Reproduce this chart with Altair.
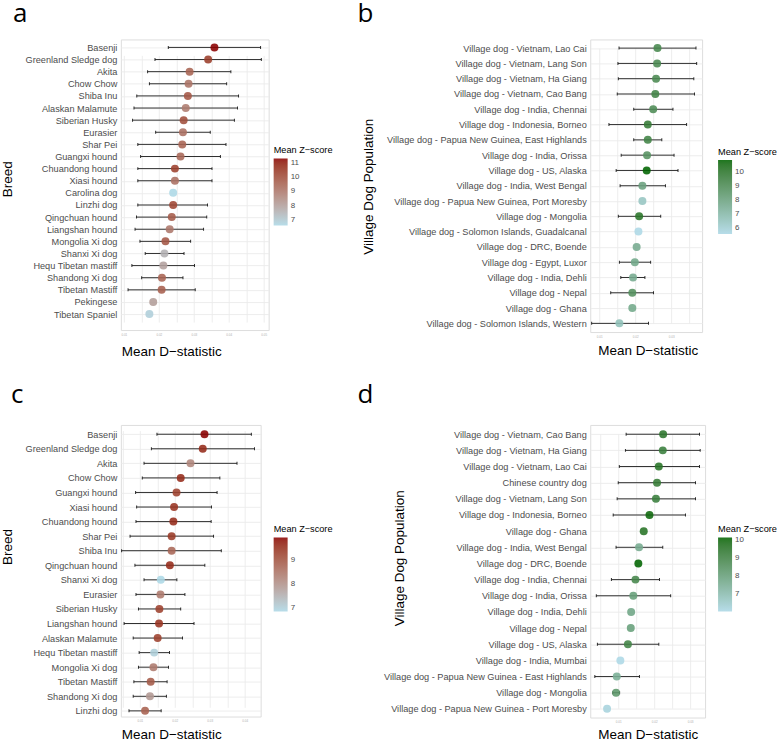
import altair as alt
import pandas as pd

# ---- panel a: breeds ----
a_cats = ["Basenji", "Greenland Sledge dog", "Akita", "Chow Chow", "Shiba Inu",
          "Alaskan Malamute", "Siberian Husky", "Eurasier", "Shar Pei", "Guangxi hound",
          "Chuandong hound", "Xiasi hound", "Carolina dog", "Linzhi dog", "Qingchuan hound",
          "Liangshan hound", "Mongolia Xi dog", "Shanxi Xi dog", "Hequ Tibetan mastiff",
          "Shandong Xi dog", "Tibetan Mastiff", "Pekingese", "Tibetan Spaniel"]
a_d = [0.0359, 0.0341, 0.0288, 0.0285, 0.0283, 0.0277, 0.0271, 0.0269, 0.0267, 0.0262,
       0.0246, 0.0246, 0.0241, 0.0241, 0.0237, 0.0231, 0.0219, 0.0216, 0.0213, 0.0209,
       0.0208, 0.0184, 0.0173]
a_lo = [0.0227, 0.0189, 0.0168, 0.0173, 0.0137, 0.0129, 0.0125, 0.0191, 0.0140, 0.0148,
        0.0140, 0.0140, None, 0.0140, 0.0136, 0.0132, 0.0146, 0.0161, 0.0123, 0.0151,
        0.0112, None, None]
a_hi = [0.0491, 0.0493, 0.0406, 0.0394, 0.0428, 0.0425, 0.0416, 0.0347, 0.0392, 0.0376,
        0.0352, 0.0352, None, 0.0339, 0.0337, 0.0328, 0.0291, 0.0272, 0.0302, 0.0269,
        0.0304, None, None]
a_z = [11.28, 10.4, 9.5, 9.1, 9.8, 8.9, 10.0, 9.2, 9.5, 9.4, 10.3, 9.2, 6.66, 10.2, 9.7,
       9.0, 9.8, 7.6, 8.0, 9.5, 9.6, 8.1, 6.9]

# ---- panel b: village dog populations ----
b_cats = ["Village dog - Vietnam, Lao Cai", "Village dog - Vietnam, Lang Son",
          "Village dog - Vietnam, Ha Giang", "Village dog - Vietnam, Cao Bang",
          "Village dog - India, Chennai", "Village dog - Indonesia, Borneo",
          "Village dog - Papua New Guinea, East Highlands", "Village dog - India, Orissa",
          "Village dog - US, Alaska", "Village dog - India, West Bengal",
          "Village dog - Papua New Guinea, Port Moresby", "Village dog - Mongolia",
          "Village dog - Solomon Islands, Guadalcanal", "Village dog - DRC, Boende",
          "Village dog - Egypt, Luxor", "Village dog - India, Dehli", "Village dog - Nepal",
          "Village dog - Ghana", "Village dog - Solomon Islands, Western"]
b_d = [0.0262, 0.0261, 0.0258, 0.0256, 0.0250, 0.0235, 0.0235, 0.0233, 0.0232, 0.0220,
       0.0220, 0.0211, 0.0209, 0.0204, 0.0199, 0.0194, 0.0192, 0.0192, 0.0156]
b_lo = [0.0155, 0.0152, 0.0153, 0.0150, 0.0196, 0.0127, 0.0196, 0.0161, 0.0147, 0.0158,
        None, 0.0153, None, None, 0.0156, 0.0160, 0.0132, None, 0.0079]
b_hi = [0.0369, 0.0371, 0.0363, 0.0365, 0.0305, 0.0343, 0.0274, 0.0308, 0.0319, 0.0284,
        None, 0.0271, None, None, 0.0243, 0.0227, 0.0251, None, 0.0237]
b_z = [9.2, 9.1, 9.1, 9.4, 9.0, 9.8, 9.4, 8.7, 10.83, 8.0, 6.4, 10.1, 5.57, 7.6, 7.7,
       7.6, 8.8, 7.7, 6.6]

# ---- panel c: breeds ----
c_cats = ["Basenji", "Greenland Sledge dog", "Akita", "Chow Chow", "Guangxi hound",
          "Xiasi hound", "Chuandong hound", "Shar Pei", "Shiba Inu", "Qingchuan hound",
          "Shanxi Xi dog", "Eurasier", "Siberian Husky", "Liangshan hound",
          "Alaskan Malamute", "Hequ Tibetan mastiff", "Mongolia Xi dog", "Tibetan Mastiff",
          "Shandong Xi dog", "Linzhi dog"]
c_d = [0.0285, 0.0280, 0.0245, 0.0217, 0.0205, 0.0198, 0.0196, 0.0191, 0.0191, 0.0186,
       0.0160, 0.0159, 0.0156, 0.0155, 0.0151, 0.0141, 0.0139, 0.0131, 0.0129, 0.0115]
c_lo = [0.0149, 0.0133, 0.0112, 0.0107, 0.0088, 0.0091, 0.0089, 0.0072, 0.0048, 0.0086,
        0.0112, 0.0089, 0.0096, 0.0055, 0.0081, 0.0098, 0.0096, 0.0083, 0.0081, 0.0069]
c_hi = [0.0419, 0.0428, 0.0378, 0.0329, 0.0321, 0.0305, 0.0304, 0.0311, 0.0333, 0.0286,
        0.0206, 0.0229, 0.0217, 0.0255, 0.0222, 0.0185, 0.0182, 0.0178, 0.0176, 0.0161]
c_z = [9.95, 9.6, 8.2, 9.6, 9.3, 9.5, 9.6, 9.4, 8.7, 9.6, 6.86, 8.4, 9.3, 9.5, 9.3, 7.0,
       8.4, 8.9, 7.9, 8.8]

# ---- panel d: village dog populations ----
d_cats = ["Village dog - Vietnam, Cao Bang", "Village dog - Vietnam, Ha Giang",
          "Village dog - Vietnam, Lao Cai", "Chinese country dog",
          "Village dog - Vietnam, Lang Son", "Village dog - Indonesia, Borneo",
          "Village dog - Ghana", "Village dog - India, West Bengal", "Village dog - DRC, Boende",
          "Village dog - India, Chennai", "Village dog - India, Orissa",
          "Village dog - India, Dehli", "Village dog - Nepal", "Village dog - US, Alaska",
          "Village dog - India, Mumbai", "Village dog - Papua New Guinea - East Highlands",
          "Village dog - Mongolia", "Village dog - Papua New Guinea - Port Moresby"]
d_d = [0.0225, 0.0224, 0.0213, 0.0208, 0.0205, 0.0187, 0.0171, 0.0158, 0.0156, 0.0148,
       0.0142, 0.0136, 0.0135, 0.0127, 0.0106, 0.0096, 0.0094, 0.0069]
d_lo = [0.0122, 0.0120, 0.0103, 0.0100, 0.0097, 0.0086, None, 0.0094, None, 0.0081,
        0.0039, None, None, 0.0042, None, 0.0035, 0.0085, None]
d_hi = [0.0326, 0.0328, 0.0326, 0.0315, 0.0315, 0.0287, None, 0.0224, None, 0.0215,
        0.0246, None, None, 0.0213, None, 0.0159, 0.0104, None]
d_z = [9.5, 9.2, 9.6, 9.3, 9.2, 10.0, 9.6, 7.6, 10.13, 8.9, 8.0, 7.8, 8.0, 9.0, 6.04,
       7.5, 8.3, 6.2]

LABEL_FONT = "Liberation Sans"
RED = ["#ADD8E6", "#8B0000"]
GREEN = ["#ADD8E6", "#006400"]


def panel(letter, cats, d, lo, hi, z, ytitle, colors, legend_values, x_domain, x_values,
          width, height, y_range, grad_len, legend_xy, title_dx, title_offset,
          xtitle_xy, ytitle_xy):
    df = pd.DataFrame({"cat": cats, "d": d, "lo": lo, "hi": hi, "z": z})
    x_scale = alt.Scale(domain=x_domain, nice=False, zero=False)
    x_axis = alt.Axis(
        values=x_values,
        labelExpr="round(datum.value * 1000) % 10 == 0 ? format(datum.value, '.2f') : ''",
        title="Mean D\u2212statistic", titleX=xtitle_xy[0], titleY=xtitle_xy[1],
        titleAlign="center", titleBaseline="middle", titleFont=LABEL_FONT,
        titleFontSize=13.5, titleFontWeight="normal", titleColor="black",
        labelFont=LABEL_FONT, labelFontSize=3, labelColor="#b0b0b0", labelPadding=3,
        ticks=False, domain=False, grid=True, gridColor="#EBEBEB", gridWidth=0.9,
        labelFlush=False, labelOverlap=False,
    )
    y_enc = alt.Y(
        "cat:N", sort=cats,
        scale=alt.Scale(type="point", range=y_range, padding=0),
        axis=alt.Axis(
            title=ytitle, titleAngle=-90, titleBaseline="top", titleAlign="center",
            titleX=ytitle_xy[0], titleY=ytitle_xy[1], titleFont=LABEL_FONT,
            titleFontSize=13.5, titleFontWeight="normal", titleColor="black",
            labelFont=LABEL_FONT, labelFontSize=9.2, labelColor="#4D4D4D",
            labelPadding=4, labelLimit=400, ticks=False, domain=False, grid=True,
            gridColor="#EBEBEB", gridWidth=0.9,
        ),
    )
    base = alt.Chart(df)
    bars = base.transform_filter("isValid(datum.lo)")
    rules = bars.mark_rule(color="#1a1a1a", strokeWidth=0.9).encode(
        x=alt.X("lo:Q", scale=x_scale, axis=x_axis), x2="hi:Q", y=y_enc)
    cap_lo = bars.mark_tick(color="#1a1a1a", size=3, thickness=0.9, opacity=1).encode(
        x=alt.X("lo:Q", scale=x_scale, axis=x_axis), y=y_enc)
    cap_hi = bars.mark_tick(color="#1a1a1a", size=3, thickness=0.9, opacity=1).encode(
        x=alt.X("hi:Q", scale=x_scale, axis=x_axis), y=y_enc)
    dots = base.mark_circle(size=64, opacity=0.88).encode(
        x=alt.X("d:Q", scale=x_scale, axis=x_axis),
        y=y_enc,
        color=alt.Color(
            "z:Q",
            scale=alt.Scale(domain=[min(z), max(z)], range=colors, interpolate="lab"),
            legend=alt.Legend(
                title="Mean Z\u2212score", orient="none",
                legendX=legend_xy[0], legendY=legend_xy[1],
                values=legend_values, gradientLength=grad_len, gradientThickness=14,
                gradientStrokeWidth=0, titleFont=LABEL_FONT, titleFontSize=9.2,
                titleFontWeight="normal", titleColor="black", titlePadding=3,
                labelFont=LABEL_FONT, labelFontSize=8, labelColor="#4D4D4D",
                labelOffset=3, labelOverlap=False, padding=0,
            ),
        ),
    )
    return alt.layer(rules, cap_lo, cap_hi, dots).properties(
        width=width, height=height,
        title=alt.TitleParams(
            letter, anchor="start", frame="group", dx=title_dx, offset=title_offset,
            font="Open Sans", fontSize=26, fontWeight="normal", color="black",
            baseline="top",
        ),
    )


pa = panel("a", a_cats, a_d, a_lo, a_hi, a_z, "Breed", RED, [7, 8, 9, 10, 11],
           [0.00914, 0.0514], [0.01, 0.015, 0.02, 0.025, 0.03, 0.035, 0.04, 0.045, 0.05],
           148, 291, [8, 275], 67, (153, 107), -108, 12.5, (50.5, 21), (-120, 139.5))
pb = panel("b", b_cats, b_d, b_lo, b_hi, b_z, "Village Dog Population", GREEN,
           [6, 7, 8, 9, 10], [0.0075, 0.0386], [0.01, 0.015, 0.02, 0.025, 0.03, 0.035],
           112, 293, [8.7, 284.3], 74, (128, 108.5), -233, 12.5, (57.5, 18.7), (-229, 147))
pc = panel("c", c_cats, c_d, c_lo, c_hi, c_z, "Breed", RED, [7, 8, 9],
           [0.00457, 0.04457], [0.005, 0.01, 0.015, 0.02, 0.025, 0.03, 0.035, 0.04],
           140, 292, [9.3, 286.3], 74, (153, 100.5), -110, 17, (50.5, 18), (-120, 121.7))
pd_ = panel("d", d_cats, d_d, d_lo, d_hi, d_z, "Village Dog Population", GREEN,
            [7, 8, 9, 10], [0.00222, 0.03417], [0.005, 0.01, 0.015, 0.02, 0.025, 0.03],
            115, 293, [9.3, 284.3], 74, (128, 100.5), -233, 17, (57.5, 17), (-198, 133))

chart = (
    alt.concat(pa, pb, pc, pd_, columns=2, spacing={"row": 93, "column": 322},
               bounds="flush")
    .resolve_scale(color="independent", x="independent", y="independent")
    .resolve_legend(color="independent")
    .properties(padding={"left": 0, "top": 0, "right": 0, "bottom": 0})
    .configure_view(stroke=None)
    .configure(background="white")
)

chart.save("out.html", embed_options={"renderer": "svg", "actions": False})
